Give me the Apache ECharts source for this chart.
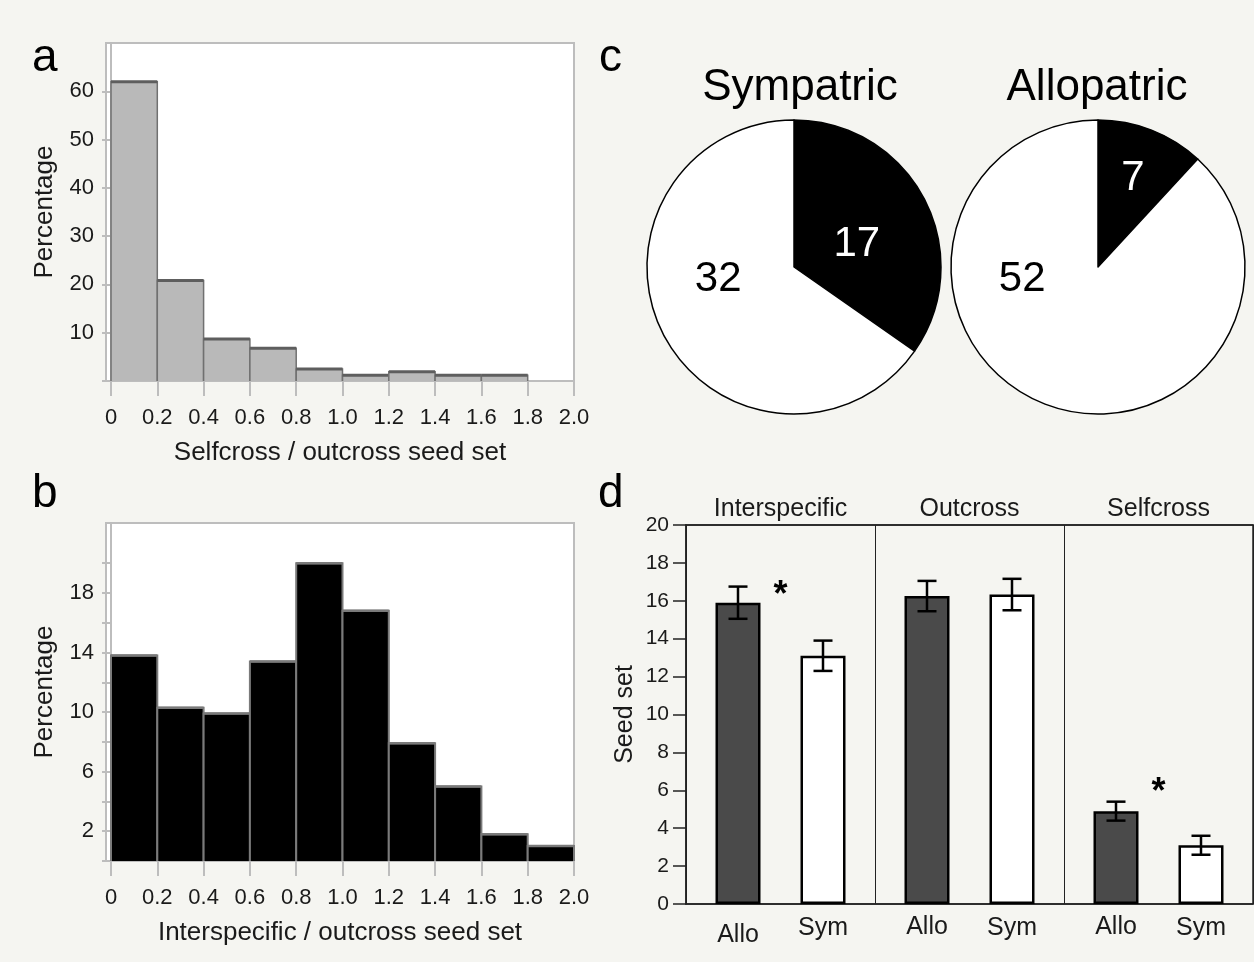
<!DOCTYPE html>
<html><head><meta charset="utf-8">
<script src="https://cdn.jsdelivr.net/npm/echarts@6/dist/echarts.min.js"></script>
<style>html,body{margin:0;padding:0;background:#f5f5f1}#c{width:1254px;height:962px}</style>
</head><body><div id="c"></div>
<script>
// ---------- data ----------
const binEdges = [0, 0.2, 0.4, 0.6, 0.8, 1.0, 1.2, 1.4, 1.6, 1.8, 2.0];
const selfPct = [62, 20.8, 8.7, 6.8, 2.5, 1.2, 1.9, 1.2, 1.2, 0];
const interPct = [13.8, 10.3, 9.9, 13.4, 20, 16.8, 7.9, 5.0, 1.8, 1.0];
const histXTicks = [0, 0.2, 0.4, 0.6, 0.8, 1.0, 1.2, 1.4, 1.6, 1.8, 2.0];
const aYTicks = [0, 10, 20, 30, 40, 50, 60];
const aYLabels = [10, 20, 30, 40, 50, 60];
const bYTicks = [0, 2, 4, 6, 8, 10, 12, 14, 16, 18, 20];
const bYLabels = [2, 6, 10, 14, 18];
const sympatric = [{ name: 'A', value: 17 }, { name: 'B', value: 32 }];
const allopatric = [{ name: 'A', value: 7 }, { name: 'B', value: 52 }];
const crossTypes = ['Interspecific', 'Outcross', 'Selfcross'];
const alloMean = [15.9, 16.25, 4.9];
const alloSE = [0.85, 0.8, 0.5];
const symMean = [13.1, 16.33, 3.1];
const symSE = [0.8, 0.83, 0.5];
const sigMark = [16.6, null, 6.2];

// ---------- layout / style ----------
const FONT = 'Liberation Sans, Arial, sans-serif';
const BAR_W = 45, BAR_GAP = 40;
const OFF = (BAR_W + BAR_GAP) / 2;
const X_PAD = 0.0216;

function hist(fill, stroke, sw, topStroke, topW) {
  return function (params, api) {
    const lo = api.value(0), hi = api.value(1), v = api.value(2);
    if (!v) return null;
    const p0 = api.coord([lo, 0]), p1 = api.coord([hi, v]);
    return {
      type: 'group', children: [
        { type: 'rect', shape: { x: p0[0], y: p1[1], width: p1[0] - p0[0], height: p0[1] - p1[1] }, style: { fill: fill } },
        { type: 'polyline', shape: { points: [[p0[0], p0[1]], [p0[0], p1[1]], [p1[0], p1[1]], [p1[0], p0[1]]] }, style: { stroke: stroke, lineWidth: sw, fill: null } },
        { type: 'line', shape: { x1: p0[0], y1: p1[1], x2: p1[0], y2: p1[1] }, style: { stroke: topStroke, lineWidth: topW } }
      ]
    };
  };
}
function histData(pct) { return pct.map((v, i) => [binEdges[i], binEdges[i + 1], v]); }

function histX(grid, name) {
  return {
    type: 'value', gridIndex: grid, min: -X_PAD, max: 2.0,
    axisLine: { show: true, lineStyle: { color: '#bdbdbd', width: 2 } },
    axisTick: { show: true, length: 15, lineStyle: { color: '#bdbdbd', width: 2 }, customValues: histXTicks },
    axisLabel: { customValues: histXTicks, margin: 26, fontSize: 22, color: '#1a1a1a', fontFamily: FONT,
      formatter: v => (Math.abs(v) < 1e-9 ? '0' : v.toFixed(1)) },
    splitLine: { show: false },
    name: name, nameLocation: 'middle', nameGap: 59,
    nameTextStyle: { fontSize: 26, color: '#1a1a1a', fontFamily: FONT }
  };
}
function histY(grid, max, ticks, labels) {
  return {
    type: 'value', gridIndex: grid, min: 0, max: max,
    axisLine: { show: true, lineStyle: { color: '#bdbdbd', width: 2 } },
    axisTick: { show: true, length: 9, lineStyle: { color: '#bdbdbd', width: 2 }, customValues: ticks },
    axisLabel: { customValues: labels, margin: 12, fontSize: 22, color: '#1a1a1a', fontFamily: FONT },
    splitLine: { show: false },
    name: 'Percentage', nameLocation: 'middle', nameGap: 48,
    nameTextStyle: { fontSize: 26, color: '#1a1a1a', fontFamily: FONT }
  };
}

function errBar(mean, se, sign) {
  return {
    type: 'custom', xAxisIndex: 2, yAxisIndex: 2, z: 10,
    data: mean.map((m, i) => [i, m, se[i]]),
    renderItem: function (params, api) {
      const i = api.value(0), m = api.value(1), s = api.value(2);
      const x = api.coord([i, m])[0] + sign * OFF;
      const yt = api.coord([i, m + s])[1], yb = api.coord([i, m - s])[1];
      const st = { stroke: '#000', lineWidth: 2.5 };
      return { type: 'group', children: [
        { type: 'line', shape: { x1: x, y1: yt, x2: x, y2: yb }, style: st },
        { type: 'line', shape: { x1: x - 9.5, y1: yt, x2: x + 9.5, y2: yt }, style: st },
        { type: 'line', shape: { x1: x - 9.5, y1: yb, x2: x + 9.5, y2: yb }, style: st }
      ] };
    }
  };
}

function pie(center, data, offs) {
  return {
    type: 'pie', center: center, radius: 147, startAngle: 90, clockwise: true,
    silent: true, animation: false, avoidLabelOverlap: false,
    itemStyle: { borderColor: '#000', borderWidth: 1.5 },
    label: { show: true, position: 'inside', formatter: '{c}', fontSize: 42, fontFamily: FONT },
    labelLine: { show: false },
    emphasis: { disabled: true },
    data: data.map((d, i) => ({
      name: d.name, value: d.value,
      itemStyle: { color: i === 0 ? '#000' : '#fff' },
      label: { color: i === 0 ? '#fff' : '#000', offset: offs[i] }
    }))
  };
}

const chart = echarts.init(document.getElementById('c'));
chart.setOption({
  backgroundColor: '#f5f5f1',
  animation: false,
  textStyle: { fontFamily: FONT },
  grid: [
    { left: 106, top: 43, width: 468, height: 338, show: true, backgroundColor: '#fff', borderColor: '#bdbdbd', borderWidth: 2 },
    { left: 106, top: 523, width: 468, height: 338, show: true, backgroundColor: '#fff', borderColor: '#bdbdbd', borderWidth: 2 },
    { left: 686, top: 525, width: 567, height: 379, show: true, backgroundColor: 'transparent', borderColor: '#222', borderWidth: 1.5 }
  ],
  xAxis: [
    histX(0, 'Selfcross / outcross seed set'),
    histX(1, 'Interspecific / outcross seed set'),
    { type: 'category', gridIndex: 2, data: crossTypes, position: 'bottom',
      axisLine: { lineStyle: { color: '#222', width: 1.5 } }, axisTick: { show: false }, axisLabel: { show: false },
      splitLine: { show: true, lineStyle: { color: '#222', width: 1 } } },
    { type: 'category', gridIndex: 2, data: crossTypes, position: 'top',
      axisLine: { lineStyle: { color: '#222', width: 1.5 } }, axisTick: { show: false },
      axisLabel: { margin: 3, fontSize: 25, color: '#1a1a1a', fontFamily: FONT }, splitLine: { show: false } }
  ],
  yAxis: [
    histY(0, 70, aYTicks, aYLabels),
    histY(1, 22.7, bYTicks, bYLabels),
    { type: 'value', gridIndex: 2, min: 0, max: 20, interval: 2,
      axisLine: { show: true, lineStyle: { color: '#222', width: 1.5 } },
      axisTick: { show: true, length: 13, lineStyle: { color: '#222', width: 1.5 } },
      axisLabel: { margin: 17, fontSize: 21, color: '#1a1a1a', fontFamily: FONT },
      splitLine: { show: false },
      name: 'Seed set', nameLocation: 'middle', nameGap: 48,
      nameTextStyle: { fontSize: 25, color: '#1a1a1a', fontFamily: FONT } }
  ],
  series: [
    { type: 'custom', xAxisIndex: 0, yAxisIndex: 0, data: histData(selfPct), encode: { x: [0, 1], y: 2 },
      renderItem: hist('#b9b9b9', '#707070', 1.5, '#5e5e5e', 3) },
    { type: 'custom', xAxisIndex: 1, yAxisIndex: 1, data: histData(interPct), encode: { x: [0, 1], y: 2 },
      renderItem: hist('#000', '#7a7a7a', 2, '#7a7a7a', 2.5) },
    { type: 'bar', name: 'Allo', xAxisIndex: 2, yAxisIndex: 2, barWidth: BAR_W, barGap: (BAR_GAP / BAR_W * 100) + '%',
      itemStyle: { color: '#4a4a4a', borderColor: '#000', borderWidth: 2.5 },
      label: { show: true, position: 'bottom', distance: 11, formatter: '{a}', fontSize: 25, color: '#1a1a1a', fontFamily: FONT },
      data: alloMean.map((v, i) => i === 0 ? { value: v, label: { distance: 19 } } : v) },
    { type: 'bar', name: 'Sym', xAxisIndex: 2, yAxisIndex: 2, barWidth: BAR_W,
      itemStyle: { color: '#fff', borderColor: '#000', borderWidth: 2.5 },
      label: { show: true, position: 'bottom', distance: 12, formatter: '{a}', fontSize: 25, color: '#1a1a1a', fontFamily: FONT },
      data: symMean },
    errBar(alloMean, alloSE, -1),
    errBar(symMean, symSE, 1),
    { type: 'custom', xAxisIndex: 2, yAxisIndex: 2, z: 11,
      data: sigMark.map((v, i) => [i, v]).filter(d => d[1] != null),
      renderItem: function (params, api) {
        const p = api.coord([api.value(0), api.value(1)]);
        return { type: 'text', x: p[0], y: p[1] + 7, style: { text: '*', font: 'bold 36px ' + FONT, fill: '#000', textAlign: 'center', textVerticalAlign: 'middle' } };
      } },
    pie([794, 267], sympatric, [[-5, 13], [-8, -23]]),
    pie([1098, 267], allopatric, [[7, -17], [-48, -59]])
  ],
  graphic: [
    { type: 'text', x: 32, y: 81, style: { text: 'a', font: '46px ' + FONT, fill: '#000', textVerticalAlign: 'bottom' } },
    { type: 'text', x: 32, y: 517, style: { text: 'b', font: '46px ' + FONT, fill: '#000', textVerticalAlign: 'bottom' } },
    { type: 'text', x: 599, y: 81, style: { text: 'c', font: '46px ' + FONT, fill: '#000', textVerticalAlign: 'bottom' } },
    { type: 'text', x: 598, y: 517, style: { text: 'd', font: '46px ' + FONT, fill: '#000', textVerticalAlign: 'bottom' } },
    { type: 'text', x: 800, y: 88, style: { text: 'Sympatric', font: '44px ' + FONT, fill: '#000', textAlign: 'center', textVerticalAlign: 'middle' } },
    { type: 'text', x: 1097, y: 88, style: { text: 'Allopatric', font: '44px ' + FONT, fill: '#000', textAlign: 'center', textVerticalAlign: 'middle' } }
  ]
});
</script></body></html>
